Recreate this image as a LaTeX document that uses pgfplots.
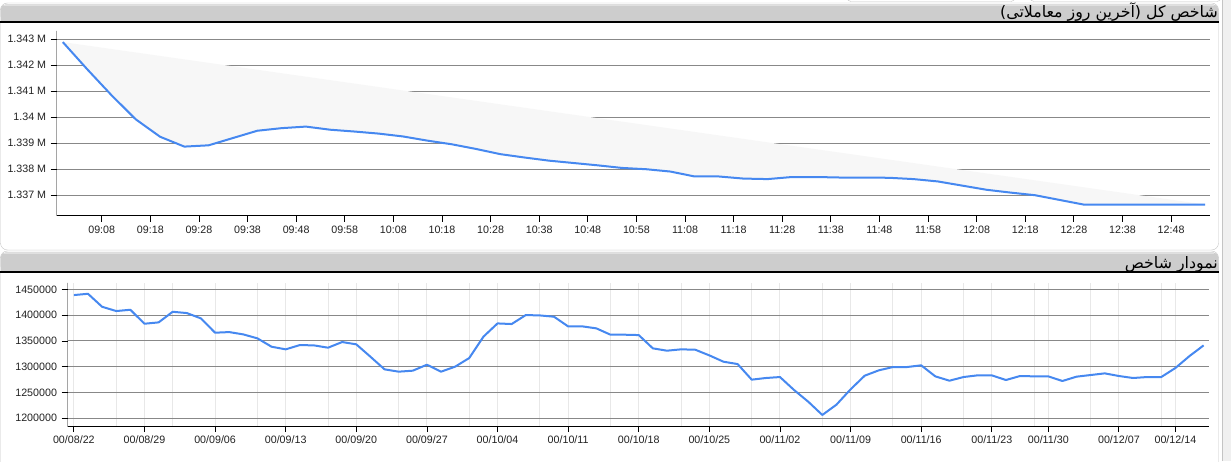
\documentclass[border=0pt]{standalone}
\usepackage{fontspec}
\setmainfont{Liberation Sans}
\newfontfamily\arabicfont[Script=Arabic]{DejaVu Sans}
\TeXXeTstate=1
\usepackage{pgfplots}
\pgfplotsset{compat=1.18}
\usepackage{pgfplotstable}

\definecolor{bargray}{HTML}{CDCDCD}
\definecolor{bordergray}{HTML}{C4C4C4}
\definecolor{stripgray}{HTML}{F0F0F0}
\definecolor{gridgray}{HTML}{888888}
\definecolor{vgrid}{HTML}{E8E8E8}
\definecolor{areagray}{HTML}{F7F7F7}
\definecolor{lineblue}{RGB}{70,136,240}
\definecolor{labelcol}{HTML}{222222}

% last trading day, minutes after 09:00, index in thousands
\pgfplotstableread{
m v
0 1342.89
5 1341.85
10 1340.85
15 1339.92
20 1339.25
25 1338.87
30 1338.92
35 1339.20
40 1339.48
45 1339.58
50 1339.64
55 1339.52
60 1339.45
65 1339.37
70 1339.26
75 1339.10
80 1338.96
85 1338.78
90 1338.58
95 1338.45
100 1338.33
105 1338.24
110 1338.15
115 1338.05
120 1338.00
125 1337.91
130 1337.72
135 1337.72
140 1337.64
145 1337.62
150 1337.70
155 1337.70
160 1337.68
165 1337.68
170 1337.67
175 1337.62
180 1337.53
185 1337.37
190 1337.21
195 1337.10
200 1337.00
205 1336.82
210 1336.64
215 1336.64
220 1336.64
225 1336.64
230 1336.64
235 1336.64
}\intraday

% daily index, trading day number
\pgfplotstableread{
d v
0 1439000
1 1441500
2 1416300
3 1408000
4 1410500
5 1383400
6 1386000
7 1406600
8 1404100
9 1393700
10 1366000
11 1367200
12 1362700
13 1355000
14 1338800
15 1333700
16 1342000
17 1341400
18 1336900
19 1347900
20 1343400
21 1319400
22 1294900
23 1290400
24 1292300
25 1303900
26 1290400
27 1300100
28 1316900
29 1358200
30 1384000
31 1382800
32 1400200
33 1399500
34 1397000
35 1378200
36 1378300
37 1374400
38 1362100
39 1362100
40 1361400
41 1335600
42 1331100
43 1333700
44 1333000
45 1322000
46 1309700
47 1305200
48 1274900
49 1278100
50 1280000
51 1254800
52 1232200
53 1206400
54 1226400
55 1256100
56 1282600
57 1293000
58 1299400
59 1299400
60 1302700
61 1281300
62 1272900
63 1280000
64 1283300
65 1283300
66 1274200
67 1282000
68 1281300
69 1281300
70 1272300
71 1280700
72 1283900
73 1287100
74 1282000
75 1278100
76 1280000
77 1280000
78 1297500
79 1320700
80 1341400
}\daily

\pgfplotsset{
  panel/.style={
    scale only axis,
    anchor=south west,
    axis line style={draw=none},
    tick align=outside,
    xtick pos=left, ytick pos=left,
    major tick length=6pt,
    tick style={black, line width=0.8pt},
    ymajorgrids,
    major y grid style={gridgray, line width=1pt},
    ticklabel style={font=\fontsize{10.7}{12}\selectfont, text=labelcol},
    yticklabel style={xshift=-1pt},
    scaled ticks=false,
  },
}

\begin{document}
\begin{tikzpicture}[x=1pt,y=1pt]
\useasboundingbox (0,0) rectangle (1231,461);
\fill[white] (0,0) rectangle (1231,461);
% right strip
\fill[stripgray] (1222,0) rectangle (1231,461);
\draw[bordergray] (1222,0) -- (1222,461);
% top-right tabs
\draw[bordergray, fill=white, rounded corners=4pt] (847,470) -- (847,459.5) -- (1015,459.5) -- (1015,470);
\draw[bordergray, fill=white, rounded corners=4pt] (1030,470) -- (1030,459.5) -- (1221,459.5) -- (1221,470);

% top panel
\draw[bordergray, fill=white, rounded corners=7pt] (0.5,211) rectangle (1218.5,458);
\fill[bargray, rounded corners=5pt] (0.5,440) rectangle (1218.5,456.5);
\fill[bargray] (0.5,439.5) rectangle (1218.5,448);
\draw[white!88!black, line width=0.8pt] (4,456) -- (1214,456);
\draw[black, line width=1.3pt] (0,439) -- (1218.5,439);
\node[anchor=base east, inner sep=0pt, font=\arabicfont\fontsize{15.8}{18}\selectfont]
  at (1218,443) {\beginR شاخص کل (آخرین روز معاملاتی)\endR};

% bottom panel
\draw[bordergray, fill=white, rounded corners=7pt] (0.5,-20) rectangle (1218.5,210);
\fill[bargray, rounded corners=5pt] (0.5,190) rectangle (1218.5,208.5);
\fill[bargray] (0.5,189.5) rectangle (1218.5,198);
\draw[white!88!black, line width=0.8pt] (4,208) -- (1214,208);
\draw[black, line width=1.3pt] (0,189) -- (1218.5,189);
\node[anchor=base east, inner sep=0pt, font=\arabicfont\fontsize{15.8}{18}\selectfont]
  at (1218,193) {\beginR نمودار شاخص\endR};

\begin{axis}[panel,
  at={(56.7pt,245pt)}, width=1153.3pt, height=185.3pt,
  xmin=-1.26, xmax=236, ymin=1336.2, ymax=1343.33,
  xtick={8,18,...,228},
  xticklabels={09:08,09:18,09:28,09:38,09:48,09:58,10:08,10:18,10:28,10:38,10:48,10:58,
    11:08,11:18,11:28,11:38,11:48,11:58,12:08,12:18,12:28,12:38,12:48},
  ytick={1337,1338,1339,1340,1341,1342,1343},
  yticklabels={1.337 M,1.338 M,1.339 M,1.34 M,1.341 M,1.342 M,1.343 M},
]
\addplot[fill=areagray, draw=none] table[x=m, y=v] {\intraday} -- cycle;
\addplot[lineblue, line width=2pt, line join=round] table[x=m, y=v] {\intraday};
\draw[black, line width=1pt] (rel axis cs:0,1) -- (rel axis cs:0,0) -- (rel axis cs:1,0);
\end{axis}

\begin{axis}[panel,
  at={(67.5pt,35pt)}, width=1141.8pt, height=143.3pt,
  xmin=-0.45, xmax=80.4, ymin=1185000, ymax=1463000,
  xtick={0,5,10,15,20,25,30,35,40,45,50,55,60,65,69,74,78},
  xticklabels={00/08/22,00/08/29,00/09/06,00/09/13,00/09/20,00/09/27,00/10/04,00/10/11,
    00/10/18,00/10/25,00/11/02,00/11/09,00/11/16,00/11/23,00/11/30,00/12/07,00/12/14},
  minor xtick={3,7,13,18,23,28,33,38,43,48,53,58,63,68,72,77},
  minor tick length=0pt,
  xmajorgrids, xminorgrids,
  major x grid style={vgrid, line width=1pt},
  minor x grid style={vgrid, line width=1pt},
  ytick={1200000,1250000,1300000,1350000,1400000,1450000},
  yticklabels={1200000,1250000,1300000,1350000,1400000,1450000},
]
\addplot[lineblue, line width=2pt, line join=round] table[x=d, y=v] {\daily};
\draw[black, line width=1pt] (rel axis cs:0,1) -- (rel axis cs:0,0) -- (rel axis cs:1,0);
\end{axis}
\end{tikzpicture}
\end{document}
